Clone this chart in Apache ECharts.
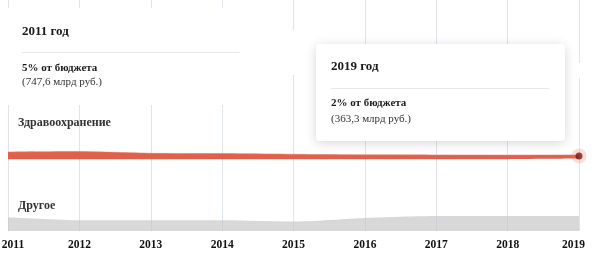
<!DOCTYPE html>
<html>
<head>
<meta charset="utf-8">
<script src="https://cdn.jsdelivr.net/npm/echarts@6/dist/echarts.min.js"></script>
<style>
html,body{margin:0;padding:0;background:#fff;}
#c{width:600px;height:267px;}
</style>
</head>
<body>
<div id="c"></div>
<script>
// ---- data (shares of budget, %) ----
var years = ['2011','2012','2013','2014','2015','2016','2017','2018','2019'];
var otherShare = [9.8, 7.6, 7.6, 7.6, 6.7, 9.3, 10.7, 10.7, 10.7];   // Другое
var restShare  = [41.4, 43.6, 43.6, 43.6, 44.5, 41.9, 40.5, 40.6, 41.0]; // остальные статьи (не выделены)
var healthShare = [5.2, 5.5, 4.3, 4.1, 3.6, 3.2, 3.1, 2.9, 2.6];   // Здравоохранение
var seriesNames = ['Другое', 'Остальное', 'Здравоохранение'];
var card2011 = ['2011 год', '5% от бюджета', '(747,6 млрд руб.)'];
var card2019 = ['2019 год', '2% от бюджета', '(363,3 млрд руб.)'];

var FONT = 'serif';
var last = years.length - 1;
var markerValue = otherShare[last] + restShare[last] + healthShare[last] * 0.75;

function txt(x, y, s, size, bold, color, z) {
  return {type: 'text', z: z, style: {x: x, y: y, text: s, fontFamily: FONT, fontSize: size,
    fontWeight: bold ? 'bold' : 'normal', fill: color, verticalAlign: 'middle'}};
}

var labelBase = {fontFamily: FONT, fontWeight: 'bold', fontSize: 11.5, color: '#111'};

var chart = echarts.init(document.getElementById('c'), null, {renderer: 'canvas'});
chart.setOption({
  animation: false,
  backgroundColor: '#fff',
  grid: {left: 8, right: 21, top: 0, bottom: 36, outerBoundsMode: 'none', containLabel: false},
  xAxis: {
    type: 'category',
    data: years,
    boundaryGap: false,
    axisLine: {show: false},
    axisTick: {show: false, interval: 0},
    axisLabel: Object.assign({
      margin: 8,
      interval: 0,
      hideOverlap: false,
      formatter: function (v, i) {
        if (i === 0) return '{first|' + v + '}';
        if (i === years.length - 1) return '{lastl|' + v + '}';
        return v;
      },
      rich: {
        first: Object.assign({padding: [0, 0, 0, 10]}, labelBase),
        lastl: Object.assign({padding: [0, 11, 0, 0]}, labelBase)
      }
    }, labelBase),
    splitLine: {show: true, interval: 0, lineStyle: {color: '#dfe3ec', width: 1}}
  },
  yAxis: {
    type: 'value', min: 0, max: 165, show: false,
    splitLine: {show: false}
  },
  series: [
    {
      name: seriesNames[0], type: 'line', stack: 's', data: otherShare,
      symbol: 'none', smooth: 0.2, lineStyle: {width: 0},
      areaStyle: {color: '#c6c6c6', opacity: 0.68}
    },
    {
      name: seriesNames[1], type: 'line', stack: 's', data: restShare,
      symbol: 'none', smooth: 0.2, lineStyle: {width: 0}
    },
    {
      name: seriesNames[2], type: 'line', stack: 's', data: healthShare,
      symbol: 'none', smooth: 0.2, lineStyle: {width: 0.6, color: '#e57560'},
      areaStyle: {color: '#e1604a', opacity: 1}
    },
    {
      type: 'scatter', z: 5, silent: true,
      data: [[years[last], markerValue]],
      symbolSize: 15, itemStyle: {color: 'rgba(228,110,90,0.28)'}
    },
    {
      type: 'scatter', z: 6, silent: true,
      data: [[years[last], markerValue]],
      symbolSize: 7, itemStyle: {color: '#7c1a10'}
    }
  ],
  graphic: [
    // left card (2011)
    {type: 'rect', z: 20, shape: {x: 0, y: 8, width: 250, height: 97}, style: {fill: '#fff'}},
    {type: 'rect', z: 20, shape: {x: 255, y: 30, width: 45, height: 45}, style: {fill: '#fff'}},
    {type: 'rect', z: 20, shape: {x: 566, y: 63, width: 34, height: 15}, style: {fill: '#fff'}},
    txt(22, 32, card2011[0], 13, true, '#1a1a1a', 21),
    {type: 'line', z: 21, shape: {x1: 22, y1: 52.5, x2: 239, y2: 52.5}, style: {stroke: '#e6e6e6', lineWidth: 1.2}},
    txt(22, 68, card2011[1], 11, true, '#1a1a1a', 21),
    txt(22, 82, card2011[2], 11, false, '#333', 21),
    // series labels
    txt(18, 123, seriesNames[2], 12, true, '#333', 21),
    txt(18, 206, seriesNames[0], 12, true, '#333', 21),
    // right card (2019)
    {type: 'rect', z: 30, shape: {x: 316, y: 44, width: 249, height: 97, r: 4},
      style: {fill: '#fff', shadowBlur: 12, shadowColor: 'rgba(0,0,0,0.16)', shadowOffsetY: 2}},
    txt(331, 67, card2019[0], 13, true, '#1a1a1a', 31),
    {type: 'line', z: 31, shape: {x1: 331, y1: 88.5, x2: 549, y2: 88.5}, style: {stroke: '#e6e6e6', lineWidth: 1.2}},
    txt(331, 103, card2019[1], 11, true, '#1a1a1a', 31),
    txt(331, 119, card2019[2], 11, false, '#333', 31)
  ]
});
</script>
</body>
</html>
